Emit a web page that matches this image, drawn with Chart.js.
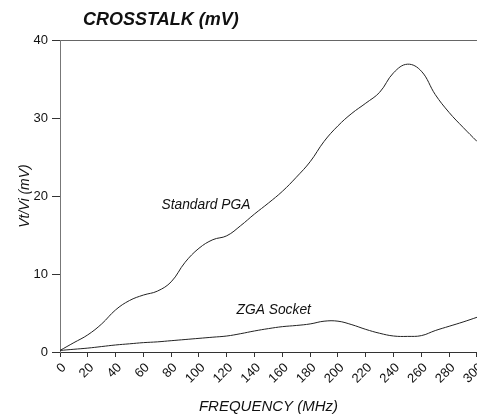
<!DOCTYPE html>
<html>
<head>
<meta charset="utf-8">
<title>Crosstalk</title>
<script src="https://cdn.jsdelivr.net/npm/chart.js@4.4.1/dist/chart.umd.min.js"></script>
<style>
  html, body { margin: 0; padding: 0; background: #fff; overflow: hidden; }
  #wrap { width: 491px; height: 414px; }
</style>
</head>
<body>
<div id="wrap"><canvas id="c" width="491" height="414"></canvas></div>
<script>
// Frequency points (MHz)
const frequency = [0, 10, 20, 30, 40, 50, 60, 70, 80, 90, 100, 110, 120, 130, 140, 150,
                   160, 170, 180, 190, 200, 210, 220, 230, 240, 250, 260, 270, 280, 290, 300];

// Crosstalk Vt/Vi (mV) for the standard PGA package
const standardPGA = [0.2, 1.2, 2.2, 3.6, 5.4, 6.6, 7.3, 7.8, 9.0, 11.5, 13.3, 14.4, 14.9, 16.2, 17.7, 19.1,
                     20.6, 22.4, 24.4, 27.0, 29.0, 30.6, 31.9, 33.3, 35.8, 36.9, 36.0, 33.0, 30.7, 28.8, 27.0];

// Crosstalk Vt/Vi (mV) for the ZGA socket
const zgaSocket = [0.2, 0.35, 0.5, 0.7, 0.9, 1.05, 1.2, 1.3, 1.45, 1.6, 1.75, 1.9, 2.05, 2.35, 2.7, 3.0,
                   3.25, 3.4, 3.6, 3.95, 3.95, 3.5, 2.9, 2.4, 2.05, 2.0, 2.1, 2.75, 3.3, 3.85, 4.45];

const seriesNames = ['Standard PGA', 'ZGA Socket'];
const xTicks = [0, 20, 40, 60, 80, 100, 120, 140, 160, 180, 200, 220, 240, 260, 280, 300];
const yTicks = [0, 10, 20, 30, 40];

const FONT = "'Liberation Sans', Arial, Helvetica, sans-serif";
const INK = '#222';

const toPoints = (ys) => frequency.map((f, i) => ({ x: f, y: ys[i] }));

// Heading above the plot, offset from the plot's left edge
const headingPlugin = {
  id: 'heading',
  afterDraw(chart) {
    const { ctx, chartArea } = chart;
    ctx.save();
    ctx.font = "italic bold 18px " + FONT;
    ctx.fillStyle = '#111';
    ctx.textAlign = 'left';
    ctx.textBaseline = 'middle';
    ctx.fillText('CROSSTALK (mV)', chartArea.left + 23, 20);
    ctx.restore();
  }
};

// Curve names written next to each curve, placed in data units
const curveLabelPlugin = {
  id: 'curveLabels',
  afterDatasetsDraw(chart, args, opts) {
    const { ctx, scales } = chart;
    ctx.save();
    ctx.font = "italic 13.8px " + FONT;
    ctx.fillStyle = '#111';
    ctx.textAlign = 'left';
    ctx.textBaseline = 'middle';
    opts.items.forEach(it => {
      ctx.fillText(it.text, scales.x.getPixelForValue(it.x), scales.y.getPixelForValue(it.y));
    });
    ctx.restore();
  }
};

new Chart(document.getElementById('c'), {
  type: 'line',
  data: {
    datasets: [
      { label: seriesNames[0], data: toPoints(standardPGA) },
      { label: seriesNames[1], data: toPoints(zgaSocket) }
    ]
  },
  options: {
    responsive: false,
    animation: false,
    devicePixelRatio: 1,
    layout: { padding: { top: 40, left: 0, right: 0, bottom: 0 } },
    elements: {
      line: { borderColor: INK, borderWidth: 1, tension: 0.4 },
      point: { radius: 0 }
    },
    plugins: {
      legend: { display: false },
      tooltip: { enabled: false },
      curveLabels: {
        items: [
          { text: seriesNames[0], x: 73, y: 18.8 },
          { text: seriesNames[1], x: 127, y: 5.4 }
        ]
      }
    },
    scales: {
      x: {
        type: 'linear',
        min: 0,
        max: 300,
        afterBuildTicks: (s) => { s.ticks = xTicks.map(v => ({ value: v })); },
        afterFit: (s) => { s.height = 62; },
        ticks: {
          minRotation: 45,
          maxRotation: 45,
          padding: 3,
          labelOffset: 4,
          color: '#111',
          font: { family: FONT, size: 13 }
        },
        grid: { drawOnChartArea: false, tickLength: 5, tickColor: '#333' },
        border: { color: '#333', width: 1 },
        title: {
          display: true,
          text: 'FREQUENCY (MHz)',
          color: '#111',
          font: { family: FONT, size: 15, style: 'italic', lineHeight: 1 },
          padding: { top: 0, bottom: 0 }
        }
      },
      y: {
        min: 0,
        max: 40,
        afterBuildTicks: (s) => { s.ticks = yTicks.map(v => ({ value: v })); },
        afterFit: (s) => { s.width = 60; },
        ticks: {
          padding: 4,
          color: '#111',
          font: { family: FONT, size: 13 }
        },
        grid: {
          color: (c) => (c.tick && c.tick.value === 40 ? '#666' : 'rgba(0,0,0,0)'),
          tickColor: '#333',
          tickLength: 8
        },
        border: { color: '#777', width: 1 },
        title: {
          display: true,
          text: 'Vt/Vi (mV)',
          color: '#111',
          font: { family: FONT, size: 14, style: 'italic', lineHeight: 1.2 },
          padding: { top: 17, bottom: 0 }
        }
      }
    }
  },
  plugins: [headingPlugin, curveLabelPlugin]
});
</script>
</body>
</html>
